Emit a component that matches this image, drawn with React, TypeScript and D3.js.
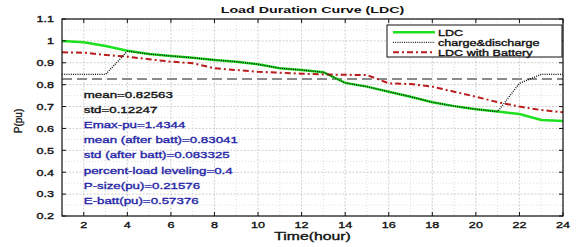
import React from "react";
import * as d3 from "d3";

// hourly values
const hours = d3.range(1, 25);
const ldc = [1.0, 0.994, 0.977, 0.955, 0.94, 0.931, 0.923, 0.913, 0.905, 0.893, 0.875, 0.867, 0.857, 0.808, 0.791, 0.768, 0.745, 0.72, 0.702, 0.688, 0.677, 0.666, 0.639, 0.634];
const chargeDischarge = [0.847, 0.847, 0.847, 0.953, 0.94, 0.931, 0.923, 0.913, 0.905, 0.893, 0.875, 0.867, 0.857, 0.808, 0.791, 0.768, 0.745, 0.72, 0.702, 0.688, 0.677, 0.806, 0.847, 0.847];
const ldcBattery = [0.948, 0.946, 0.936, 0.928, 0.916, 0.905, 0.898, 0.875, 0.867, 0.859, 0.855, 0.85, 0.847, 0.845, 0.844, 0.806, 0.803, 0.791, 0.768, 0.745, 0.72, 0.7, 0.684, 0.674];
const meanLevel = 0.82563;

const xTicks = d3.range(2, 25, 2);
const yTicks = [0.2, 0.3, 0.4, 0.5, 0.6, 0.7, 0.8, 0.9, 1, 1.1];
const yTickLabels = ["0.2", "0.3", "0.4", "0.5", "0.6", "0.7", "0.8", "0.9", "1", "1.1"];

const statsBlack = ["mean=0.82563", "std=0.12247"];
const statsBlue = [
  "Emax-pu=1.4344",
  "mean (after batt)=0.83041",
  "std (after batt)=0.083325",
  "percent-load leveling=0.4",
  "P-size(pu)=0.21576",
  "E-batt(pu)=0.57376",
];

const legendItems = [
  { label: "LDC", color: "#1ee01e", width: 2.5, dash: "" },
  { label: "charge&discharge", color: "#222", width: 1.3, dash: "1,1.2" },
  { label: "LDC with Battery", color: "#b81c1c", width: 2, dash: "6,3,2,3" },
];

const W = 576;
const H = 247;
const FONT = "'Liberation Sans', Arial, sans-serif";
const SX = 1.4; // the reference text is stretched sideways

function SText({ x, y, size = 9, weight = "normal", fill = "#111", anchor = "start", sx = SX, heavy = 0.35, children }: any) {
  return (
    <text
      transform={`translate(${x},${y}) scale(${sx},1)`}
      fontSize={size}
      fontWeight={weight}
      fill={fill}
      stroke={heavy ? fill : "none"}
      strokeWidth={heavy}
      textAnchor={anchor}
      fontFamily={FONT}
    >
      {children}
    </text>
  );
}

export default function App() {
  const left = 62;
  const right = 563;
  const top = 19;
  const bottom = 216;

  const x = d3.scaleLinear().domain([1, 24]).range([left, right]);
  const y = d3.scaleLinear().domain([0.2, 1.1]).range([bottom, top]);

  const line = d3
    .line<number>()
    .x((_, i) => x(hours[i]))
    .y((d) => y(d));

  const minorY = d3.range(0.25, 1.1, 0.1);
  const minorX = d3.range(1, 24, 2);

  const statY0 = 97.5;
  const statStep = 15.2;

  return (
    <svg
      width={W}
      height={H}
      style={{ position: "absolute", left: 0, top: 0, background: "#fff" }}
    >
      <rect x={0} y={0} width={W} height={H} fill="#fff" />

      {/* grid */}
      <g fill="none" strokeWidth={0.8}>
        {minorY.map((v) => (
          <line key={"my" + v} x1={left} x2={right} y1={y(v)} y2={y(v)} stroke="#d4d4d4" strokeDasharray="1,2" />
        ))}
        {minorX.map((v) => (
          <line key={"mx" + v} x1={x(v)} x2={x(v)} y1={top} y2={bottom} stroke="#d4d4d4" strokeDasharray="1,2" />
        ))}
        {yTicks.map((v) => (
          <line key={"gy" + v} x1={left} x2={right} y1={y(v)} y2={y(v)} stroke="#c4c4c4" strokeDasharray="2,1.5" />
        ))}
        {xTicks.map((v) => (
          <line key={"gx" + v} x1={x(v)} x2={x(v)} y1={top} y2={bottom} stroke="#c4c4c4" strokeDasharray="2,1.5" />
        ))}
      </g>

      {/* mean line */}
      <line x1={left} x2={right} y1={y(meanLevel)} y2={y(meanLevel)} stroke="#8a8a8a" strokeWidth={2} strokeDasharray="10,5" />

      {/* series */}
      <path d={line(ldc) || ""} fill="none" stroke="#1ee01e" strokeWidth={2.5} />
      <path d={line(ldcBattery) || ""} fill="none" stroke="#b81c1c" strokeWidth={2} strokeDasharray="6,3,2,3" />
      <path d={line(chargeDischarge) || ""} fill="none" stroke="#111" strokeWidth={1.4} strokeDasharray="1,1.2" />

      {/* axes box and ticks */}
      <rect x={left} y={top} width={right - left} height={bottom - top} fill="none" stroke="#111" strokeWidth={1.2} />
      <g stroke="#111" strokeWidth={1}>
        {yTicks.map((v) => (
          <g key={"ty" + v}>
            <line x1={left} x2={left + 4} y1={y(v)} y2={y(v)} />
            <line x1={right} x2={right - 4} y1={y(v)} y2={y(v)} />
          </g>
        ))}
        {xTicks.map((v) => (
          <g key={"tx" + v}>
            <line x1={x(v)} x2={x(v)} y1={bottom} y2={bottom - 4} />
            <line x1={x(v)} x2={x(v)} y1={top} y2={top + 4} />
          </g>
        ))}
      </g>

      {/* tick labels */}
      {yTicks.map((v, i) => (
        <SText key={"ly" + v} x={54} y={y(v) + 3.3} anchor="end" size={9}>
          {yTickLabels[i]}
        </SText>
      ))}
      {xTicks.map((v) => (
        <SText key={"lx" + v} x={x(v)} y={227.5} anchor="middle" size={9}>
          {String(v)}
        </SText>
      ))}

      {/* titles */}
      <SText x={(left + right) / 2} y={13} anchor="middle" size={9.5} weight="bold" sx={1.5} heavy={0}>
        Load Duration Curve (LDC)
      </SText>
      <SText x={(left + right) / 2} y={240} anchor="middle" size={10.5} sx={1.5}>
        Time(hour)
      </SText>
      <text
        transform="translate(22,121) rotate(-90)"
        fontSize={10}
        textAnchor="middle"
        fontFamily={FONT}
        fill="#111"
        stroke="#111"
        strokeWidth={0.3}
      >
        P(pu)
      </text>

      {/* statistics */}
      {statsBlack.map((s, i) => (
        <SText key={s} x={x(2)} y={statY0 + i * statStep} size={9.5} fill="#111">
          {s}
        </SText>
      ))}
      {statsBlue.map((s, i) => (
        <SText key={s} x={x(2)} y={statY0 + (i + 2) * statStep} size={9.5} fill="#2626a8">
          {s}
        </SText>
      ))}

      {/* legend */}
      <g>
        <rect x={387} y={25} width={175} height={32} fill="#fff" stroke="#111" strokeWidth={1} />
        {legendItems.map((d, i) => {
          const ly = 32.3 + i * 10;
          return (
            <g key={d.label}>
              <line x1={393} x2={435} y1={ly} y2={ly} stroke={d.color} strokeWidth={d.width} strokeDasharray={d.dash} />
              <SText x={438} y={ly + 3.3} size={9}>
                {d.label}
              </SText>
            </g>
          );
        })}
      </g>
    </svg>
  );
}
